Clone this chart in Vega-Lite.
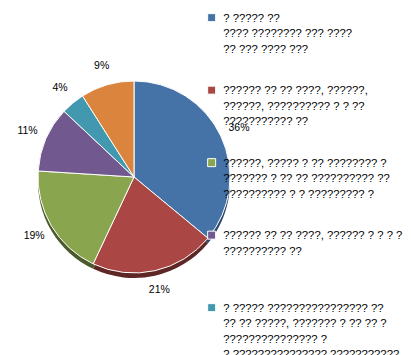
{
  "$schema": "https://vega.github.io/schema/vega-lite/v6.json",
  "width": 400,
  "height": 344,
  "autosize": {"type": "none"},
  "padding": {"left": 5, "top": 5, "right": 6, "bottom": 6},
  "background": "white",
  "config": {"view": {"stroke": "#858585", "strokeWidth": 1}, "font": "Liberation Sans"},
  "data": {
    "values": [
      {"label": "? ????? ??|???? ???????? ??? ????|?? ??? ???? ???|", "order": 1, "value": 0.36},
      {"label": "?????? ?? ?? ????, ??????,|??????, ?????????? ? ? ??|??????????? ??|", "order": 2, "value": 0.21},
      {"label": "??????, ????? ? ?? ???????? ?|??????? ? ?? ?? ?????????? ??|?????????? ? ? ????????? ?|", "order": 3, "value": 0.19},
      {"label": "?????? ?? ?? ????, ?????? ? ? ? ?|?????????? ??||", "order": 4, "value": 0.11},
      {"label": "? ????? ???????????????? ??|?? ?? ?????, ??????? ? ?? ?? ?|??????????????? ?|? ??????????????? ???????????", "order": 5, "value": 0.04},
      {"label": "?????? ?? ??????? ??|???? ????????||", "order": 6, "value": 0.09}
    ]
  },
  "layer": [
    {
      "mark": {"type": "arc", "outerRadius": 96, "xOffset": -71, "yOffset": 5},
      "encoding": {
        "theta": {"field": "value", "type": "quantitative", "stack": true},
        "order": {"field": "order", "type": "quantitative"},
        "color": {
          "field": "label", "type": "nominal", "sort": {"field": "order"},
          "scale": {"range": ["#2B4566", "#5E2624", "#4B5A2B", "#3E3050", "#245461", "#7A4921"]},
          "legend": null
        }
      }
    },
    {
      "mark": {"type": "arc", "outerRadius": 96, "xOffset": -71, "stroke": "white", "strokeWidth": 1},
      "encoding": {
        "theta": {"field": "value", "type": "quantitative", "stack": true},
        "order": {"field": "order", "type": "quantitative"},
        "color": {
          "field": "label", "type": "nominal", "sort": {"field": "order"},
          "scale": {"range": ["#4572A7", "#AA4643", "#89A54E", "#71588F", "#4198AF", "#DB843D"]},
          "legend": {
            "orient": "none", "legendX": 201, "legendY": 7, "title": null,
            "symbolType": "square", "symbolSize": 64, "symbolStrokeColor": "white", "symbolStrokeWidth": 1,
            "labelFontSize": 11.3, "labelFont": "Liberation Sans", "labelColor": "black",
            "labelLimit": 400, "labelOffset": 6, "labelBaseline": "top", "rowPadding": 12.5, "padding": 0,
            "labelExpr": "split(datum.label, '|')",
            "encode": {"labels": {"update": {"lineHeight": {"value": 15.5}, "dy": {"value": -5}}}}
          }
        }
      }
    },
    {
      "mark": {"type": "text", "radius": 116, "xOffset": -71, "fontSize": 10.5, "font": "Liberation Sans", "color": "black"},
      "encoding": {
        "theta": {"field": "value", "type": "quantitative", "stack": true},
        "order": {"field": "order", "type": "quantitative"},
        "text": {"field": "value", "type": "quantitative", "format": ".0%"}
      }
    }
  ],
  "resolve": {"scale": {"color": "independent"}}
}
